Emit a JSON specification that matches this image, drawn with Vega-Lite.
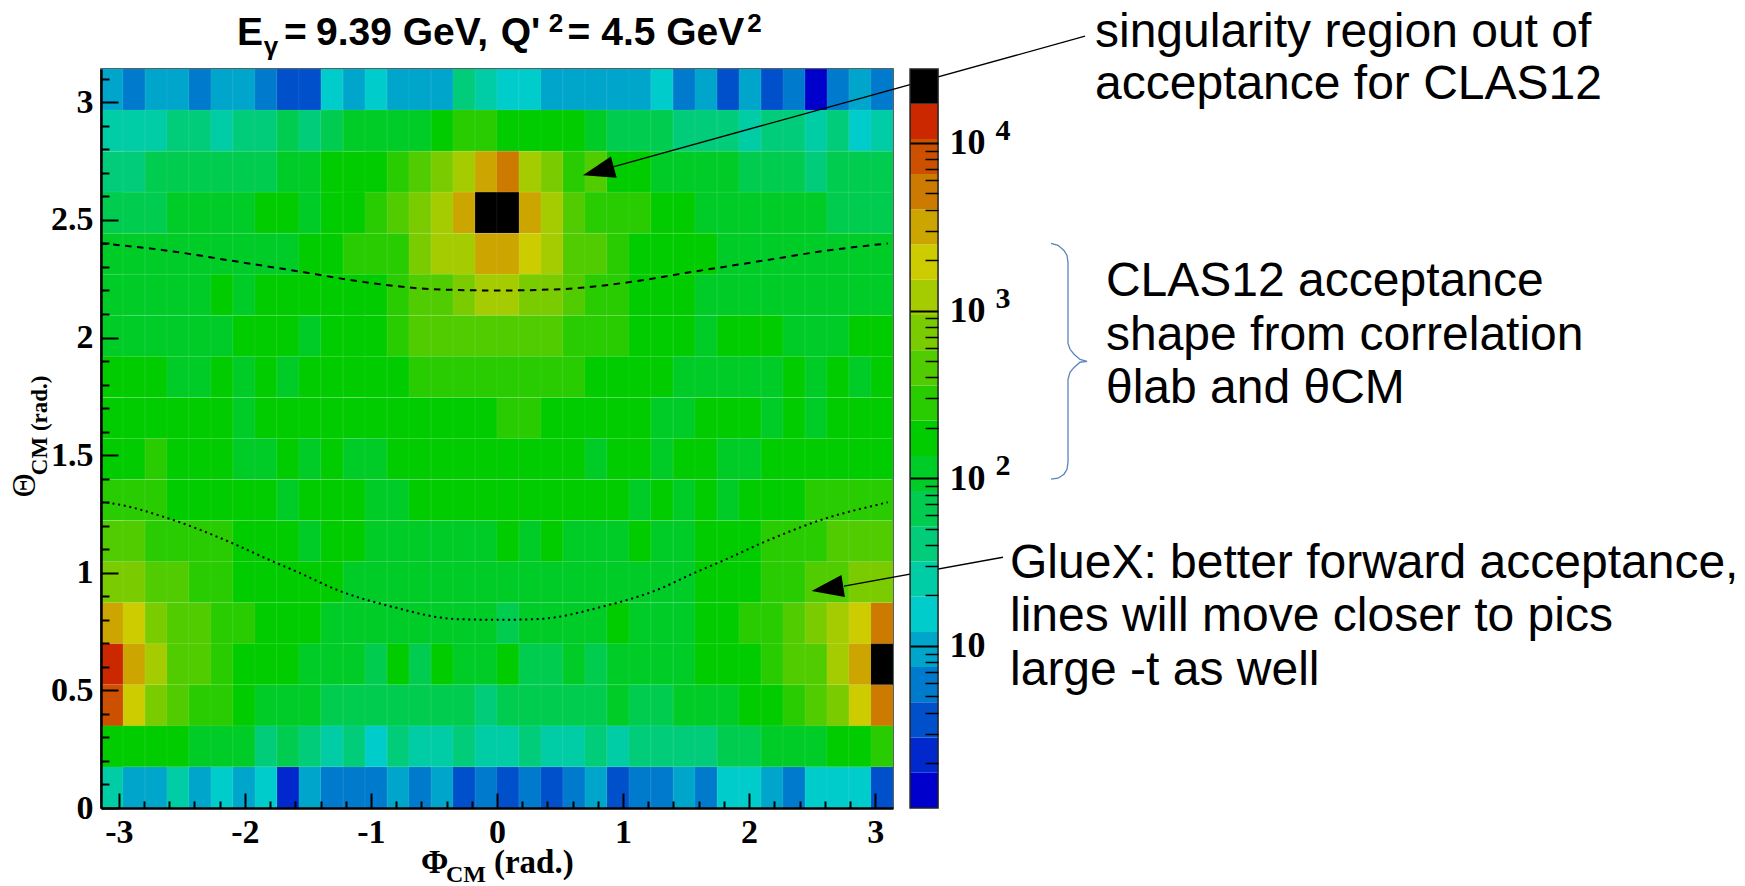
{"$schema":"https://vega.github.io/schema/vega-lite/v6.json","autosize":{"type":"none"},"padding":{"left":101,"top":69,"right":852,"bottom":78},"width":792,"height":739,"background":"white","config":{"view":{"stroke":"#1a2a2a","strokeWidth":1.5},"axis":{"grid":false}},"resolve":{"scale":{"y":"independent"},"axis":{"x":"independent","y":"independent"}},"layer":[{"resolve":{"axis":{"x":"independent","y":"independent"}},"layer":[{"data":{"values":[
{"p":-3.054,"t":3.054,"n":9.5},{"p":-2.88,"t":3.054,"n":5.9},{"p":-2.705,"t":3.054,"n":9.5},{"p":-2.531,"t":3.054,"n":9.5},{"p":-2.356,"t":3.054,"n":5.9},{"p":-2.182,"t":3.054,"n":9.5},{"p":-2.007,"t":3.054,"n":9.5},{"p":-1.833,"t":3.054,"n":5.9},{"p":-1.658,"t":3.054,"n":3.6},{"p":-1.484,"t":3.054,"n":3.6},{"p":-1.309,"t":3.054,"n":15.5},{"p":-1.134,"t":3.054,"n":9.5},{"p":-0.96,"t":3.054,"n":15.5},{"p":-0.785,"t":3.054,"n":9.5},{"p":-0.611,"t":3.054,"n":9.5},{"p":-0.436,"t":3.054,"n":9.5},{"p":-0.262,"t":3.054,"n":41},{"p":-0.087,"t":3.054,"n":25},{"p":0.087,"t":3.054,"n":15.5},{"p":0.262,"t":3.054,"n":15.5},{"p":0.436,"t":3.054,"n":9.5},{"p":0.611,"t":3.054,"n":9.5},{"p":0.785,"t":3.054,"n":9.5},{"p":0.96,"t":3.054,"n":9.5},{"p":1.134,"t":3.054,"n":9.5},{"p":1.309,"t":3.054,"n":15.5},{"p":1.484,"t":3.054,"n":5.9},{"p":1.658,"t":3.054,"n":9.5},{"p":1.833,"t":3.054,"n":3.6},{"p":2.007,"t":3.054,"n":9.5},{"p":2.182,"t":3.054,"n":3.6},{"p":2.356,"t":3.054,"n":5.9},{"p":2.531,"t":3.054,"n":1.4},{"p":2.705,"t":3.054,"n":5.9},{"p":2.88,"t":3.054,"n":9.5},{"p":3.054,"t":3.054,"n":5.9},
{"p":-3.054,"t":2.88,"n":25},{"p":-2.88,"t":2.88,"n":25},{"p":-2.705,"t":2.88,"n":25},{"p":-2.531,"t":2.88,"n":41},{"p":-2.356,"t":2.88,"n":41},{"p":-2.182,"t":2.88,"n":25},{"p":-2.007,"t":2.88,"n":41},{"p":-1.833,"t":2.88,"n":41},{"p":-1.658,"t":2.88,"n":66},{"p":-1.484,"t":2.88,"n":41},{"p":-1.309,"t":2.88,"n":66},{"p":-1.134,"t":2.88,"n":107},{"p":-0.96,"t":2.88,"n":107},{"p":-0.785,"t":2.88,"n":107},{"p":-0.611,"t":2.88,"n":107},{"p":-0.436,"t":2.88,"n":173},{"p":-0.262,"t":2.88,"n":281},{"p":-0.087,"t":2.88,"n":281},{"p":0.087,"t":2.88,"n":173},{"p":0.262,"t":2.88,"n":173},{"p":0.436,"t":2.88,"n":173},{"p":0.611,"t":2.88,"n":173},{"p":0.785,"t":2.88,"n":107},{"p":0.96,"t":2.88,"n":66},{"p":1.134,"t":2.88,"n":66},{"p":1.309,"t":2.88,"n":66},{"p":1.484,"t":2.88,"n":41},{"p":1.658,"t":2.88,"n":41},{"p":1.833,"t":2.88,"n":41},{"p":2.007,"t":2.88,"n":25},{"p":2.182,"t":2.88,"n":41},{"p":2.356,"t":2.88,"n":41},{"p":2.531,"t":2.88,"n":25},{"p":2.705,"t":2.88,"n":41},{"p":2.88,"t":2.88,"n":15.5},{"p":3.054,"t":2.88,"n":25},
{"p":-3.054,"t":2.705,"n":41},{"p":-2.88,"t":2.705,"n":41},{"p":-2.705,"t":2.705,"n":66},{"p":-2.531,"t":2.705,"n":66},{"p":-2.356,"t":2.705,"n":66},{"p":-2.182,"t":2.705,"n":66},{"p":-2.007,"t":2.705,"n":66},{"p":-1.833,"t":2.705,"n":66},{"p":-1.658,"t":2.705,"n":107},{"p":-1.484,"t":2.705,"n":107},{"p":-1.309,"t":2.705,"n":173},{"p":-1.134,"t":2.705,"n":173},{"p":-0.96,"t":2.705,"n":173},{"p":-0.785,"t":2.705,"n":281},{"p":-0.611,"t":2.705,"n":456},{"p":-0.436,"t":2.705,"n":740},{"p":-0.262,"t":2.705,"n":1200},{"p":-0.087,"t":2.705,"n":3155},{"p":0.087,"t":2.705,"n":5117},{"p":0.262,"t":2.705,"n":1200},{"p":0.436,"t":2.705,"n":740},{"p":0.611,"t":2.705,"n":281},{"p":0.785,"t":2.705,"n":456},{"p":0.96,"t":2.705,"n":173},{"p":1.134,"t":2.705,"n":173},{"p":1.309,"t":2.705,"n":107},{"p":1.484,"t":2.705,"n":107},{"p":1.658,"t":2.705,"n":107},{"p":1.833,"t":2.705,"n":107},{"p":2.007,"t":2.705,"n":66},{"p":2.182,"t":2.705,"n":66},{"p":2.356,"t":2.705,"n":66},{"p":2.531,"t":2.705,"n":41},{"p":2.705,"t":2.705,"n":66},{"p":2.88,"t":2.705,"n":66},{"p":3.054,"t":2.705,"n":66},
{"p":-3.054,"t":2.531,"n":66},{"p":-2.88,"t":2.531,"n":66},{"p":-2.705,"t":2.531,"n":66},{"p":-2.531,"t":2.531,"n":107},{"p":-2.356,"t":2.531,"n":107},{"p":-2.182,"t":2.531,"n":107},{"p":-2.007,"t":2.531,"n":107},{"p":-1.833,"t":2.531,"n":173},{"p":-1.658,"t":2.531,"n":173},{"p":-1.484,"t":2.531,"n":107},{"p":-1.309,"t":2.531,"n":173},{"p":-1.134,"t":2.531,"n":173},{"p":-0.96,"t":2.531,"n":281},{"p":-0.785,"t":2.531,"n":456},{"p":-0.611,"t":2.531,"n":740},{"p":-0.436,"t":2.531,"n":1200},{"p":-0.262,"t":2.531,"n":3155},{"p":-0.087,"t":2.531,"n":21830},{"p":0.087,"t":2.531,"n":21830},{"p":0.262,"t":2.531,"n":3155},{"p":0.436,"t":2.531,"n":1200},{"p":0.611,"t":2.531,"n":456},{"p":0.785,"t":2.531,"n":281},{"p":0.96,"t":2.531,"n":281},{"p":1.134,"t":2.531,"n":281},{"p":1.309,"t":2.531,"n":173},{"p":1.484,"t":2.531,"n":173},{"p":1.658,"t":2.531,"n":107},{"p":1.833,"t":2.531,"n":107},{"p":2.007,"t":2.531,"n":107},{"p":2.182,"t":2.531,"n":107},{"p":2.356,"t":2.531,"n":107},{"p":2.531,"t":2.531,"n":107},{"p":2.705,"t":2.531,"n":66},{"p":2.88,"t":2.531,"n":66},{"p":3.054,"t":2.531,"n":66},
{"p":-3.054,"t":2.356,"n":107},{"p":-2.88,"t":2.356,"n":107},{"p":-2.705,"t":2.356,"n":107},{"p":-2.531,"t":2.356,"n":107},{"p":-2.356,"t":2.356,"n":107},{"p":-2.182,"t":2.356,"n":107},{"p":-2.007,"t":2.356,"n":107},{"p":-1.833,"t":2.356,"n":107},{"p":-1.658,"t":2.356,"n":107},{"p":-1.484,"t":2.356,"n":173},{"p":-1.309,"t":2.356,"n":173},{"p":-1.134,"t":2.356,"n":281},{"p":-0.96,"t":2.356,"n":281},{"p":-0.785,"t":2.356,"n":281},{"p":-0.611,"t":2.356,"n":740},{"p":-0.436,"t":2.356,"n":1200},{"p":-0.262,"t":2.356,"n":1200},{"p":-0.087,"t":2.356,"n":3155},{"p":0.087,"t":2.356,"n":3155},{"p":0.262,"t":2.356,"n":1945},{"p":0.436,"t":2.356,"n":1200},{"p":0.611,"t":2.356,"n":456},{"p":0.785,"t":2.356,"n":456},{"p":0.96,"t":2.356,"n":281},{"p":1.134,"t":2.356,"n":173},{"p":1.309,"t":2.356,"n":173},{"p":1.484,"t":2.356,"n":173},{"p":1.658,"t":2.356,"n":173},{"p":1.833,"t":2.356,"n":107},{"p":2.007,"t":2.356,"n":107},{"p":2.182,"t":2.356,"n":107},{"p":2.356,"t":2.356,"n":107},{"p":2.531,"t":2.356,"n":107},{"p":2.705,"t":2.356,"n":107},{"p":2.88,"t":2.356,"n":107},{"p":3.054,"t":2.356,"n":107},
{"p":-3.054,"t":2.182,"n":107},{"p":-2.88,"t":2.182,"n":107},{"p":-2.705,"t":2.182,"n":107},{"p":-2.531,"t":2.182,"n":107},{"p":-2.356,"t":2.182,"n":107},{"p":-2.182,"t":2.182,"n":173},{"p":-2.007,"t":2.182,"n":107},{"p":-1.833,"t":2.182,"n":173},{"p":-1.658,"t":2.182,"n":173},{"p":-1.484,"t":2.182,"n":173},{"p":-1.309,"t":2.182,"n":173},{"p":-1.134,"t":2.182,"n":173},{"p":-0.96,"t":2.182,"n":173},{"p":-0.785,"t":2.182,"n":281},{"p":-0.611,"t":2.182,"n":456},{"p":-0.436,"t":2.182,"n":456},{"p":-0.262,"t":2.182,"n":740},{"p":-0.087,"t":2.182,"n":1200},{"p":0.087,"t":2.182,"n":1200},{"p":0.262,"t":2.182,"n":740},{"p":0.436,"t":2.182,"n":740},{"p":0.611,"t":2.182,"n":456},{"p":0.785,"t":2.182,"n":281},{"p":0.96,"t":2.182,"n":281},{"p":1.134,"t":2.182,"n":173},{"p":1.309,"t":2.182,"n":173},{"p":1.484,"t":2.182,"n":173},{"p":1.658,"t":2.182,"n":107},{"p":1.833,"t":2.182,"n":107},{"p":2.007,"t":2.182,"n":107},{"p":2.182,"t":2.182,"n":107},{"p":2.356,"t":2.182,"n":107},{"p":2.531,"t":2.182,"n":107},{"p":2.705,"t":2.182,"n":107},{"p":2.88,"t":2.182,"n":107},{"p":3.054,"t":2.182,"n":107},
{"p":-3.054,"t":2.007,"n":107},{"p":-2.88,"t":2.007,"n":107},{"p":-2.705,"t":2.007,"n":107},{"p":-2.531,"t":2.007,"n":107},{"p":-2.356,"t":2.007,"n":107},{"p":-2.182,"t":2.007,"n":107},{"p":-2.007,"t":2.007,"n":173},{"p":-1.833,"t":2.007,"n":173},{"p":-1.658,"t":2.007,"n":173},{"p":-1.484,"t":2.007,"n":107},{"p":-1.309,"t":2.007,"n":173},{"p":-1.134,"t":2.007,"n":173},{"p":-0.96,"t":2.007,"n":173},{"p":-0.785,"t":2.007,"n":281},{"p":-0.611,"t":2.007,"n":456},{"p":-0.436,"t":2.007,"n":456},{"p":-0.262,"t":2.007,"n":456},{"p":-0.087,"t":2.007,"n":456},{"p":0.087,"t":2.007,"n":456},{"p":0.262,"t":2.007,"n":456},{"p":0.436,"t":2.007,"n":456},{"p":0.611,"t":2.007,"n":281},{"p":0.785,"t":2.007,"n":281},{"p":0.96,"t":2.007,"n":281},{"p":1.134,"t":2.007,"n":173},{"p":1.309,"t":2.007,"n":173},{"p":1.484,"t":2.007,"n":173},{"p":1.658,"t":2.007,"n":107},{"p":1.833,"t":2.007,"n":173},{"p":2.007,"t":2.007,"n":173},{"p":2.182,"t":2.007,"n":173},{"p":2.356,"t":2.007,"n":107},{"p":2.531,"t":2.007,"n":107},{"p":2.705,"t":2.007,"n":107},{"p":2.88,"t":2.007,"n":173},{"p":3.054,"t":2.007,"n":173},
{"p":-3.054,"t":1.833,"n":173},{"p":-2.88,"t":1.833,"n":173},{"p":-2.705,"t":1.833,"n":173},{"p":-2.531,"t":1.833,"n":107},{"p":-2.356,"t":1.833,"n":107},{"p":-2.182,"t":1.833,"n":173},{"p":-2.007,"t":1.833,"n":107},{"p":-1.833,"t":1.833,"n":173},{"p":-1.658,"t":1.833,"n":107},{"p":-1.484,"t":1.833,"n":173},{"p":-1.309,"t":1.833,"n":173},{"p":-1.134,"t":1.833,"n":173},{"p":-0.96,"t":1.833,"n":173},{"p":-0.785,"t":1.833,"n":173},{"p":-0.611,"t":1.833,"n":281},{"p":-0.436,"t":1.833,"n":281},{"p":-0.262,"t":1.833,"n":281},{"p":-0.087,"t":1.833,"n":281},{"p":0.087,"t":1.833,"n":281},{"p":0.262,"t":1.833,"n":281},{"p":0.436,"t":1.833,"n":281},{"p":0.611,"t":1.833,"n":281},{"p":0.785,"t":1.833,"n":173},{"p":0.96,"t":1.833,"n":173},{"p":1.134,"t":1.833,"n":173},{"p":1.309,"t":1.833,"n":173},{"p":1.484,"t":1.833,"n":107},{"p":1.658,"t":1.833,"n":107},{"p":1.833,"t":1.833,"n":107},{"p":2.007,"t":1.833,"n":107},{"p":2.182,"t":1.833,"n":107},{"p":2.356,"t":1.833,"n":173},{"p":2.531,"t":1.833,"n":107},{"p":2.705,"t":1.833,"n":173},{"p":2.88,"t":1.833,"n":107},{"p":3.054,"t":1.833,"n":173},
{"p":-3.054,"t":1.658,"n":173},{"p":-2.88,"t":1.658,"n":173},{"p":-2.705,"t":1.658,"n":173},{"p":-2.531,"t":1.658,"n":173},{"p":-2.356,"t":1.658,"n":173},{"p":-2.182,"t":1.658,"n":173},{"p":-2.007,"t":1.658,"n":107},{"p":-1.833,"t":1.658,"n":173},{"p":-1.658,"t":1.658,"n":173},{"p":-1.484,"t":1.658,"n":173},{"p":-1.309,"t":1.658,"n":173},{"p":-1.134,"t":1.658,"n":173},{"p":-0.96,"t":1.658,"n":173},{"p":-0.785,"t":1.658,"n":173},{"p":-0.611,"t":1.658,"n":173},{"p":-0.436,"t":1.658,"n":173},{"p":-0.262,"t":1.658,"n":173},{"p":-0.087,"t":1.658,"n":173},{"p":0.087,"t":1.658,"n":281},{"p":0.262,"t":1.658,"n":281},{"p":0.436,"t":1.658,"n":173},{"p":0.611,"t":1.658,"n":173},{"p":0.785,"t":1.658,"n":173},{"p":0.96,"t":1.658,"n":173},{"p":1.134,"t":1.658,"n":173},{"p":1.309,"t":1.658,"n":107},{"p":1.484,"t":1.658,"n":107},{"p":1.658,"t":1.658,"n":173},{"p":1.833,"t":1.658,"n":173},{"p":2.007,"t":1.658,"n":173},{"p":2.182,"t":1.658,"n":107},{"p":2.356,"t":1.658,"n":173},{"p":2.531,"t":1.658,"n":107},{"p":2.705,"t":1.658,"n":173},{"p":2.88,"t":1.658,"n":173},{"p":3.054,"t":1.658,"n":173},
{"p":-3.054,"t":1.484,"n":173},{"p":-2.88,"t":1.484,"n":173},{"p":-2.705,"t":1.484,"n":281},{"p":-2.531,"t":1.484,"n":173},{"p":-2.356,"t":1.484,"n":173},{"p":-2.182,"t":1.484,"n":173},{"p":-2.007,"t":1.484,"n":107},{"p":-1.833,"t":1.484,"n":107},{"p":-1.658,"t":1.484,"n":173},{"p":-1.484,"t":1.484,"n":107},{"p":-1.309,"t":1.484,"n":173},{"p":-1.134,"t":1.484,"n":107},{"p":-0.96,"t":1.484,"n":107},{"p":-0.785,"t":1.484,"n":173},{"p":-0.611,"t":1.484,"n":173},{"p":-0.436,"t":1.484,"n":173},{"p":-0.262,"t":1.484,"n":173},{"p":-0.087,"t":1.484,"n":173},{"p":0.087,"t":1.484,"n":173},{"p":0.262,"t":1.484,"n":173},{"p":0.436,"t":1.484,"n":173},{"p":0.611,"t":1.484,"n":173},{"p":0.785,"t":1.484,"n":107},{"p":0.96,"t":1.484,"n":173},{"p":1.134,"t":1.484,"n":173},{"p":1.309,"t":1.484,"n":107},{"p":1.484,"t":1.484,"n":173},{"p":1.658,"t":1.484,"n":173},{"p":1.833,"t":1.484,"n":107},{"p":2.007,"t":1.484,"n":107},{"p":2.182,"t":1.484,"n":173},{"p":2.356,"t":1.484,"n":173},{"p":2.531,"t":1.484,"n":173},{"p":2.705,"t":1.484,"n":173},{"p":2.88,"t":1.484,"n":173},{"p":3.054,"t":1.484,"n":173},
{"p":-3.054,"t":1.309,"n":281},{"p":-2.88,"t":1.309,"n":281},{"p":-2.705,"t":1.309,"n":281},{"p":-2.531,"t":1.309,"n":173},{"p":-2.356,"t":1.309,"n":173},{"p":-2.182,"t":1.309,"n":173},{"p":-2.007,"t":1.309,"n":173},{"p":-1.833,"t":1.309,"n":173},{"p":-1.658,"t":1.309,"n":107},{"p":-1.484,"t":1.309,"n":173},{"p":-1.309,"t":1.309,"n":173},{"p":-1.134,"t":1.309,"n":173},{"p":-0.96,"t":1.309,"n":107},{"p":-0.785,"t":1.309,"n":107},{"p":-0.611,"t":1.309,"n":173},{"p":-0.436,"t":1.309,"n":173},{"p":-0.262,"t":1.309,"n":173},{"p":-0.087,"t":1.309,"n":173},{"p":0.087,"t":1.309,"n":173},{"p":0.262,"t":1.309,"n":173},{"p":0.436,"t":1.309,"n":173},{"p":0.611,"t":1.309,"n":173},{"p":0.785,"t":1.309,"n":173},{"p":0.96,"t":1.309,"n":173},{"p":1.134,"t":1.309,"n":107},{"p":1.309,"t":1.309,"n":173},{"p":1.484,"t":1.309,"n":107},{"p":1.658,"t":1.309,"n":173},{"p":1.833,"t":1.309,"n":107},{"p":2.007,"t":1.309,"n":173},{"p":2.182,"t":1.309,"n":173},{"p":2.356,"t":1.309,"n":173},{"p":2.531,"t":1.309,"n":281},{"p":2.705,"t":1.309,"n":281},{"p":2.88,"t":1.309,"n":281},{"p":3.054,"t":1.309,"n":281},
{"p":-3.054,"t":1.134,"n":456},{"p":-2.88,"t":1.134,"n":456},{"p":-2.705,"t":1.134,"n":281},{"p":-2.531,"t":1.134,"n":281},{"p":-2.356,"t":1.134,"n":281},{"p":-2.182,"t":1.134,"n":281},{"p":-2.007,"t":1.134,"n":173},{"p":-1.833,"t":1.134,"n":173},{"p":-1.658,"t":1.134,"n":173},{"p":-1.484,"t":1.134,"n":107},{"p":-1.309,"t":1.134,"n":173},{"p":-1.134,"t":1.134,"n":173},{"p":-0.96,"t":1.134,"n":107},{"p":-0.785,"t":1.134,"n":107},{"p":-0.611,"t":1.134,"n":107},{"p":-0.436,"t":1.134,"n":107},{"p":-0.262,"t":1.134,"n":107},{"p":-0.087,"t":1.134,"n":107},{"p":0.087,"t":1.134,"n":173},{"p":0.262,"t":1.134,"n":107},{"p":0.436,"t":1.134,"n":173},{"p":0.611,"t":1.134,"n":107},{"p":0.785,"t":1.134,"n":107},{"p":0.96,"t":1.134,"n":107},{"p":1.134,"t":1.134,"n":173},{"p":1.309,"t":1.134,"n":107},{"p":1.484,"t":1.134,"n":107},{"p":1.658,"t":1.134,"n":173},{"p":1.833,"t":1.134,"n":173},{"p":2.007,"t":1.134,"n":173},{"p":2.182,"t":1.134,"n":281},{"p":2.356,"t":1.134,"n":281},{"p":2.531,"t":1.134,"n":281},{"p":2.705,"t":1.134,"n":456},{"p":2.88,"t":1.134,"n":456},{"p":3.054,"t":1.134,"n":456},
{"p":-3.054,"t":0.96,"n":740},{"p":-2.88,"t":0.96,"n":740},{"p":-2.705,"t":0.96,"n":456},{"p":-2.531,"t":0.96,"n":456},{"p":-2.356,"t":0.96,"n":281},{"p":-2.182,"t":0.96,"n":281},{"p":-2.007,"t":0.96,"n":173},{"p":-1.833,"t":0.96,"n":173},{"p":-1.658,"t":0.96,"n":173},{"p":-1.484,"t":0.96,"n":173},{"p":-1.309,"t":0.96,"n":173},{"p":-1.134,"t":0.96,"n":107},{"p":-0.96,"t":0.96,"n":107},{"p":-0.785,"t":0.96,"n":107},{"p":-0.611,"t":0.96,"n":107},{"p":-0.436,"t":0.96,"n":107},{"p":-0.262,"t":0.96,"n":107},{"p":-0.087,"t":0.96,"n":107},{"p":0.087,"t":0.96,"n":107},{"p":0.262,"t":0.96,"n":107},{"p":0.436,"t":0.96,"n":107},{"p":0.611,"t":0.96,"n":107},{"p":0.785,"t":0.96,"n":107},{"p":0.96,"t":0.96,"n":107},{"p":1.134,"t":0.96,"n":107},{"p":1.309,"t":0.96,"n":107},{"p":1.484,"t":0.96,"n":107},{"p":1.658,"t":0.96,"n":173},{"p":1.833,"t":0.96,"n":173},{"p":2.007,"t":0.96,"n":173},{"p":2.182,"t":0.96,"n":281},{"p":2.356,"t":0.96,"n":281},{"p":2.531,"t":0.96,"n":456},{"p":2.705,"t":0.96,"n":456},{"p":2.88,"t":0.96,"n":740},{"p":3.054,"t":0.96,"n":740},
{"p":-3.054,"t":0.785,"n":3155},{"p":-2.88,"t":0.785,"n":1945},{"p":-2.705,"t":0.785,"n":740},{"p":-2.531,"t":0.785,"n":456},{"p":-2.356,"t":0.785,"n":456},{"p":-2.182,"t":0.785,"n":281},{"p":-2.007,"t":0.785,"n":281},{"p":-1.833,"t":0.785,"n":173},{"p":-1.658,"t":0.785,"n":173},{"p":-1.484,"t":0.785,"n":173},{"p":-1.309,"t":0.785,"n":107},{"p":-1.134,"t":0.785,"n":107},{"p":-0.96,"t":0.785,"n":107},{"p":-0.785,"t":0.785,"n":107},{"p":-0.611,"t":0.785,"n":107},{"p":-0.436,"t":0.785,"n":107},{"p":-0.262,"t":0.785,"n":107},{"p":-0.087,"t":0.785,"n":107},{"p":0.087,"t":0.785,"n":66},{"p":0.262,"t":0.785,"n":107},{"p":0.436,"t":0.785,"n":107},{"p":0.611,"t":0.785,"n":107},{"p":0.785,"t":0.785,"n":107},{"p":0.96,"t":0.785,"n":173},{"p":1.134,"t":0.785,"n":107},{"p":1.309,"t":0.785,"n":107},{"p":1.484,"t":0.785,"n":107},{"p":1.658,"t":0.785,"n":173},{"p":1.833,"t":0.785,"n":173},{"p":2.007,"t":0.785,"n":281},{"p":2.182,"t":0.785,"n":281},{"p":2.356,"t":0.785,"n":456},{"p":2.531,"t":0.785,"n":740},{"p":2.705,"t":0.785,"n":1200},{"p":2.88,"t":0.785,"n":1945},{"p":3.054,"t":0.785,"n":5117},
{"p":-3.054,"t":0.611,"n":13459},{"p":-2.88,"t":0.611,"n":3155},{"p":-2.705,"t":0.611,"n":1200},{"p":-2.531,"t":0.611,"n":456},{"p":-2.356,"t":0.611,"n":456},{"p":-2.182,"t":0.611,"n":281},{"p":-2.007,"t":0.611,"n":173},{"p":-1.833,"t":0.611,"n":173},{"p":-1.658,"t":0.611,"n":173},{"p":-1.484,"t":0.611,"n":107},{"p":-1.309,"t":0.611,"n":107},{"p":-1.134,"t":0.611,"n":107},{"p":-0.96,"t":0.611,"n":66},{"p":-0.785,"t":0.611,"n":173},{"p":-0.611,"t":0.611,"n":66},{"p":-0.436,"t":0.611,"n":173},{"p":-0.262,"t":0.611,"n":107},{"p":-0.087,"t":0.611,"n":107},{"p":0.087,"t":0.611,"n":173},{"p":0.262,"t":0.611,"n":66},{"p":0.436,"t":0.611,"n":66},{"p":0.611,"t":0.611,"n":107},{"p":0.785,"t":0.611,"n":66},{"p":0.96,"t":0.611,"n":107},{"p":1.134,"t":0.611,"n":107},{"p":1.309,"t":0.611,"n":107},{"p":1.484,"t":0.611,"n":107},{"p":1.658,"t":0.611,"n":173},{"p":1.833,"t":0.611,"n":173},{"p":2.007,"t":0.611,"n":173},{"p":2.182,"t":0.611,"n":281},{"p":2.356,"t":0.611,"n":456},{"p":2.531,"t":0.611,"n":456},{"p":2.705,"t":0.611,"n":1200},{"p":2.88,"t":0.611,"n":3155},{"p":3.054,"t":0.611,"n":21830},
{"p":-3.054,"t":0.436,"n":8299},{"p":-2.88,"t":0.436,"n":1945},{"p":-2.705,"t":0.436,"n":740},{"p":-2.531,"t":0.436,"n":456},{"p":-2.356,"t":0.436,"n":281},{"p":-2.182,"t":0.436,"n":281},{"p":-2.007,"t":0.436,"n":173},{"p":-1.833,"t":0.436,"n":107},{"p":-1.658,"t":0.436,"n":107},{"p":-1.484,"t":0.436,"n":107},{"p":-1.309,"t":0.436,"n":66},{"p":-1.134,"t":0.436,"n":66},{"p":-0.96,"t":0.436,"n":66},{"p":-0.785,"t":0.436,"n":66},{"p":-0.611,"t":0.436,"n":66},{"p":-0.436,"t":0.436,"n":66},{"p":-0.262,"t":0.436,"n":66},{"p":-0.087,"t":0.436,"n":41},{"p":0.087,"t":0.436,"n":66},{"p":0.262,"t":0.436,"n":66},{"p":0.436,"t":0.436,"n":66},{"p":0.611,"t":0.436,"n":66},{"p":0.785,"t":0.436,"n":66},{"p":0.96,"t":0.436,"n":107},{"p":1.134,"t":0.436,"n":66},{"p":1.309,"t":0.436,"n":66},{"p":1.484,"t":0.436,"n":107},{"p":1.658,"t":0.436,"n":107},{"p":1.833,"t":0.436,"n":107},{"p":2.007,"t":0.436,"n":173},{"p":2.182,"t":0.436,"n":173},{"p":2.356,"t":0.436,"n":281},{"p":2.531,"t":0.436,"n":456},{"p":2.705,"t":0.436,"n":740},{"p":2.88,"t":0.436,"n":1945},{"p":3.054,"t":0.436,"n":5117},
{"p":-3.054,"t":0.262,"n":173},{"p":-2.88,"t":0.262,"n":173},{"p":-2.705,"t":0.262,"n":173},{"p":-2.531,"t":0.262,"n":173},{"p":-2.356,"t":0.262,"n":107},{"p":-2.182,"t":0.262,"n":107},{"p":-2.007,"t":0.262,"n":107},{"p":-1.833,"t":0.262,"n":41},{"p":-1.658,"t":0.262,"n":66},{"p":-1.484,"t":0.262,"n":41},{"p":-1.309,"t":0.262,"n":25},{"p":-1.134,"t":0.262,"n":41},{"p":-0.96,"t":0.262,"n":15.5},{"p":-0.785,"t":0.262,"n":41},{"p":-0.611,"t":0.262,"n":25},{"p":-0.436,"t":0.262,"n":25},{"p":-0.262,"t":0.262,"n":41},{"p":-0.087,"t":0.262,"n":25},{"p":0.087,"t":0.262,"n":25},{"p":0.262,"t":0.262,"n":41},{"p":0.436,"t":0.262,"n":25},{"p":0.611,"t":0.262,"n":25},{"p":0.785,"t":0.262,"n":41},{"p":0.96,"t":0.262,"n":25},{"p":1.134,"t":0.262,"n":41},{"p":1.309,"t":0.262,"n":41},{"p":1.484,"t":0.262,"n":41},{"p":1.658,"t":0.262,"n":41},{"p":1.833,"t":0.262,"n":66},{"p":2.007,"t":0.262,"n":66},{"p":2.182,"t":0.262,"n":107},{"p":2.356,"t":0.262,"n":107},{"p":2.531,"t":0.262,"n":107},{"p":2.705,"t":0.262,"n":173},{"p":2.88,"t":0.262,"n":173},{"p":3.054,"t":0.262,"n":281},
{"p":-3.054,"t":0.087,"n":25},{"p":-2.88,"t":0.087,"n":9.5},{"p":-2.705,"t":0.087,"n":9.5},{"p":-2.531,"t":0.087,"n":25},{"p":-2.356,"t":0.087,"n":9.5},{"p":-2.182,"t":0.087,"n":15.5},{"p":-2.007,"t":0.087,"n":9.5},{"p":-1.833,"t":0.087,"n":15.5},{"p":-1.658,"t":0.087,"n":2.2},{"p":-1.484,"t":0.087,"n":9.5},{"p":-1.309,"t":0.087,"n":5.9},{"p":-1.134,"t":0.087,"n":5.9},{"p":-0.96,"t":0.087,"n":5.9},{"p":-0.785,"t":0.087,"n":9.5},{"p":-0.611,"t":0.087,"n":5.9},{"p":-0.436,"t":0.087,"n":9.5},{"p":-0.262,"t":0.087,"n":3.6},{"p":-0.087,"t":0.087,"n":5.9},{"p":0.087,"t":0.087,"n":3.6},{"p":0.262,"t":0.087,"n":5.9},{"p":0.436,"t":0.087,"n":3.6},{"p":0.611,"t":0.087,"n":5.9},{"p":0.785,"t":0.087,"n":9.5},{"p":0.96,"t":0.087,"n":3.6},{"p":1.134,"t":0.087,"n":5.9},{"p":1.309,"t":0.087,"n":5.9},{"p":1.484,"t":0.087,"n":9.5},{"p":1.658,"t":0.087,"n":5.9},{"p":1.833,"t":0.087,"n":15.5},{"p":2.007,"t":0.087,"n":15.5},{"p":2.182,"t":0.087,"n":9.5},{"p":2.356,"t":0.087,"n":5.9},{"p":2.531,"t":0.087,"n":15.5},{"p":2.705,"t":0.087,"n":15.5},{"p":2.88,"t":0.087,"n":15.5},{"p":3.054,"t":0.087,"n":3.6}
]},"mark":{"type":"rect","width":22,"height":41.05,"stroke":"#ffffff","strokeOpacity":0.1,"strokeWidth":0.6},"encoding":{"x":{"field":"p","type":"quantitative","title":null,"scale":{"domain":[-3.14159,3.14159],"nice":false,"zero":false},"axis":{"orient":"bottom","zindex":1,"values":[-3,-2,-1,0,1,2,3],"tickSize":-15,"tickWidth":2,"tickColor":"black","domainColor":"black","domainWidth":2.5,"labelFont":"Liberation Serif","labelFontWeight":"bold","labelFontSize":34,"labelColor":"black","labelPadding":22,"labelExpr":"''+datum.value","labelOverlap":false,"labelFlush":false,"labelBound":false}},"y":{"field":"t","type":"quantitative","title":null,"scale":{"domain":[0,3.14159],"nice":false,"zero":false},"axis":{"orient":"left","zindex":1,"values":[0,0.5,1,1.5,2,2.5,3],"tickSize":-17,"tickWidth":2,"tickColor":"black","domainColor":"black","domainWidth":2.5,"labelFont":"Liberation Serif","labelFontWeight":"bold","labelFontSize":34,"labelColor":"black","labelPadding":25,"labelExpr":"''+datum.value","labelOverlap":false,"labelFlush":false,"labelBound":false}},"color":{"field":"n","type":"quantitative","legend":null,"scale":{"type":"threshold","domain":[1.75,2.84,4.61,7.48,12.1,19.7,31.9,51.8,83.9,136,221,358,581,942,1528,2477,4018,6516,10568,17140],"range":["#0000cc","#0028cc","#0050cc","#007acc","#00a5cc","#00cccc","#00cca5","#00cc7a","#00cc50","#00cc28","#00cc00","#28cc00","#50cc00","#7acc00","#a5cc00","#cccc00","#cca500","#cc7a00","#cc5000","#cc2800","#000000"]}}}},
{"data":{"values":[{"p":-3.14,"t":2.4},{"p":-2.61,"t":2.369},{"p":-2.09,"t":2.325},{"p":-1.57,"t":2.281},{"p":-1.03,"t":2.234},{"p":-0.52,"t":2.206},{"p":0,"t":2.2},{"p":0.52,"t":2.206},{"p":1.03,"t":2.234},{"p":1.57,"t":2.281},{"p":2.09,"t":2.325},{"p":2.61,"t":2.369},{"p":3.1,"t":2.4}]},"mark":{"type":"line","color":"black","strokeWidth":2,"strokeDash":[6.5,5.5],"interpolate":"monotone"},"encoding":{"x":{"field":"p","type":"quantitative","title":null,"axis":{"orient":"bottom","zindex":1,"values":[-2.8,-2.6,-2.4,-2.2,-1.8,-1.6,-1.4,-1.2,-0.8,-0.6,-0.4,-0.2,0.2,0.4,0.6,0.8,1.2,1.4,1.6,1.8,2.2,2.4,2.6,2.8],"tickSize":-7,"tickWidth":2,"tickColor":"black","labels":false,"domain":false}},"y":{"field":"t","type":"quantitative","title":null,"axis":{"orient":"left","zindex":1,"values":[0.1,0.2,0.3,0.4,0.6,0.7,0.8,0.9,1.1,1.2,1.3,1.4,1.6,1.7,1.8,1.9,2.1,2.2,2.3,2.4,2.6,2.7,2.8,2.9,3.1],"tickSize":-8,"tickWidth":2,"tickColor":"black","labels":false,"domain":false}}}},
{"data":{"values":[{"p":-3.14,"t":1.3},{"p":-3.07,"t":1.296},{"p":-2.59,"t":1.228},{"p":-2.1,"t":1.126},{"p":-1.8,"t":1.053},{"p":-1.59,"t":1.005},{"p":-1.245,"t":0.922},{"p":-0.85,"t":0.858},{"p":-0.32,"t":0.803},{"p":0,"t":0.8},{"p":0.32,"t":0.803},{"p":0.85,"t":0.858},{"p":1.245,"t":0.922},{"p":1.59,"t":1.005},{"p":1.8,"t":1.053},{"p":2.1,"t":1.126},{"p":2.59,"t":1.228},{"p":3.07,"t":1.296},{"p":3.1,"t":1.3}]},"mark":{"type":"line","color":"black","strokeWidth":2,"strokeDash":[2,3.7],"interpolate":"monotone"},"encoding":{"x":{"field":"p","type":"quantitative","axis":null},"y":{"field":"t","type":"quantitative","axis":null}}},
{"data":{"values":[{"g":"a","p":4.665,"t":3.281},{"g":"a","p":0.928,"t":2.727},{"g":"b","p":4.014,"t":1.066},{"g":"b","p":2.753,"t":0.943}]},"mark":{"type":"line","color":"black","strokeWidth":1.3},"encoding":{"x":{"field":"p","type":"quantitative","axis":null},"y":{"field":"t","type":"quantitative","axis":null},"detail":{"field":"g"}}},
{"data":{"values":[{"p":0.804,"t":2.707}]},"mark":{"type":"point","filled":true,"opacity":1,"color":"black","shape":"M -1 0 L 1 -0.69 L 1 0.69 Z","size":1024,"angle":-15},"encoding":{"x":{"field":"p","type":"quantitative","axis":null},"y":{"field":"t","type":"quantitative","axis":null}}},
{"data":{"values":[{"p":2.621,"t":0.933}]},"mark":{"type":"point","filled":true,"opacity":1,"color":"black","shape":"M -1 0 L 1 -0.69 L 1 0.69 Z","size":1024,"angle":-9},"encoding":{"x":{"field":"p","type":"quantitative","axis":null},"y":{"field":"t","type":"quantitative","axis":null}}},
{"data":{"values":[{"o":1,"p":4.395,"t":2.4},{"o":2,"p":4.451,"t":2.392},{"o":3,"p":4.498,"t":2.37},{"o":4,"p":4.522,"t":2.349},{"o":5,"p":4.53,"t":2.319},{"o":6,"p":4.53,"t":1.975},{"o":7,"p":4.546,"t":1.95},{"o":8,"p":4.578,"t":1.929},{"o":9,"p":4.625,"t":1.907},{"o":10,"p":4.681,"t":1.899},{"o":11,"p":4.625,"t":1.895},{"o":12,"p":4.578,"t":1.873},{"o":13,"p":4.546,"t":1.852},{"o":14,"p":4.53,"t":1.822},{"o":15,"p":4.53,"t":1.47},{"o":16,"p":4.522,"t":1.44},{"o":17,"p":4.498,"t":1.419},{"o":18,"p":4.451,"t":1.402},{"o":19,"p":4.395,"t":1.398}]},"mark":{"type":"line","color":"#5b84bd","strokeWidth":1.3},"encoding":{"x":{"field":"p","type":"quantitative","axis":null},"y":{"field":"t","type":"quantitative","axis":null},"order":{"field":"o"}}},
{"data":{"values":[{"p":4.744,"t":3.234,"s":"singularity region out of"},{"p":4.744,"t":3.013,"s":"acceptance for CLAS12"},{"p":4.831,"t":2.177,"s":"CLAS12 acceptance"},{"p":4.831,"t":1.947,"s":"shape from correlation"},{"p":4.831,"t":1.722,"s":"θlab and θCM"},{"p":4.07,"t":0.979,"s":"GlueX: better forward acceptance,"},{"p":4.07,"t":0.753,"s":"lines will move closer to pics"},{"p":4.07,"t":0.524,"s":"large -t as well"}]},"mark":{"type":"text","font":"Liberation Sans","fontSize":48,"align":"left","baseline":"alphabetic","color":"black"},"encoding":{"x":{"field":"p","type":"quantitative","axis":null},"y":{"field":"t","type":"quantitative","axis":null},"text":{"field":"s"}}},
{"data":{"values":[{"p":-2.063,"t":3.243,"s":"E"},{"p":-1.69,"t":3.243,"s":"="},{"p":-1.436,"t":3.243,"s":"9.39 GeV,"},{"p":0.03,"t":3.243,"s":"Q'"},{"p":0.56,"t":3.243,"s":"= 4.5 GeV"}]},"mark":{"type":"text","font":"Liberation Sans","fontWeight":"bold","fontSize":39,"align":"left","baseline":"alphabetic","color":"black"},"encoding":{"x":{"field":"p","type":"quantitative","axis":null},"y":{"field":"t","type":"quantitative","axis":null},"text":{"field":"s"}}},
{"data":{"values":[{"p":-1.85,"t":3.2,"s":"γ"},{"p":0.41,"t":3.3,"s":"2"},{"p":1.985,"t":3.3,"s":"2"}]},"mark":{"type":"text","font":"Liberation Sans","fontWeight":"bold","fontSize":26,"align":"left","baseline":"alphabetic","color":"black"},"encoding":{"x":{"field":"p","type":"quantitative","axis":null},"y":{"field":"t","type":"quantitative","axis":null},"text":{"field":"s"}}},
{"data":{"values":[{"p":-0.603,"t":-0.276,"s":"Φ"},{"p":-0.024,"t":-0.276,"s":"(rad.)"}]},"mark":{"type":"text","font":"Liberation Serif","fontWeight":"bold","fontSize":33,"align":"left","baseline":"alphabetic","color":"black"},"encoding":{"x":{"field":"p","type":"quantitative","axis":null},"y":{"field":"t","type":"quantitative","axis":null},"text":{"field":"s"}}},
{"data":{"values":[{"p":-0.405,"t":-0.314,"s":"CM"}]},"mark":{"type":"text","font":"Liberation Serif","fontWeight":"bold","fontSize":24,"align":"left","baseline":"alphabetic","color":"black"},"encoding":{"x":{"field":"p","type":"quantitative","axis":null},"y":{"field":"t","type":"quantitative","axis":null},"text":{"field":"s"}}},
{"data":{"values":[{"p":-3.665,"t":1.321,"s":"Θ"}]},"mark":{"type":"text","font":"Liberation Serif","fontSize":33,"angle":270,"align":"left","baseline":"alphabetic","color":"black"},"encoding":{"x":{"field":"p","type":"quantitative","axis":null},"y":{"field":"t","type":"quantitative","axis":null},"text":{"field":"s"}}},
{"data":{"values":[{"p":-3.57,"t":1.415,"s":"CM (rad.)"}]},"mark":{"type":"text","font":"Liberation Serif","fontWeight":"bold","fontSize":23,"angle":270,"align":"left","baseline":"alphabetic","color":"black"},"encoding":{"x":{"field":"p","type":"quantitative","axis":null},"y":{"field":"t","type":"quantitative","axis":null},"text":{"field":"s"}}}
]},
{"resolve":{"axis":{"y":"independent"}},"layer":[
{"data":{"values":[{"lo":1.08,"hi":1.75,"n":1.4},{"lo":1.75,"hi":2.84,"n":2.2},{"lo":2.84,"hi":4.61,"n":3.6},{"lo":4.61,"hi":7.48,"n":5.9},{"lo":7.48,"hi":12.1,"n":9.5},{"lo":12.1,"hi":19.7,"n":15.5},{"lo":19.7,"hi":31.9,"n":25},{"lo":31.9,"hi":51.8,"n":41},{"lo":51.8,"hi":83.9,"n":66},{"lo":83.9,"hi":136,"n":107},{"lo":136,"hi":221,"n":173},{"lo":221,"hi":358,"n":281},{"lo":358,"hi":581,"n":456},{"lo":581,"hi":942,"n":740},{"lo":942,"hi":1528,"n":1200},{"lo":1528,"hi":2477,"n":1945},{"lo":2477,"hi":4018,"n":3155},{"lo":4018,"hi":6516,"n":5117},{"lo":6516,"hi":10568,"n":8299},{"lo":10568,"hi":17140,"n":13459},{"lo":17140,"hi":27600,"n":21830}]},"mark":{"type":"rect"},"encoding":{"x":{"datum":3.277,"type":"quantitative","axis":null},"x2":{"datum":3.499},"y":{"field":"lo","type":"quantitative","title":null,"scale":{"type":"log","domain":[1.08,27600],"nice":false},"axis":{"orient":"right","offset":45,"zindex":1,"values":[10,100,1000,10000],"tickSize":-28,"tickWidth":2,"tickColor":"black","domain":false,"labelFont":"Liberation Serif","labelFontWeight":"bold","labelFontSize":36,"labelColor":"black","labelPadding":39,"labelAlign":"left","labelExpr":"'10'","labelOverlap":false,"labelFlush":false,"labelBound":false}},"y2":{"field":"hi"},"color":{"field":"n","type":"quantitative","legend":null,"scale":{"type":"threshold","domain":[1.75,2.84,4.61,7.48,12.1,19.7,31.9,51.8,83.9,136,221,358,581,942,1528,2477,4018,6516,10568,17140],"range":["#0000cc","#0028cc","#0050cc","#007acc","#00a5cc","#00cccc","#00cca5","#00cc7a","#00cc50","#00cc28","#00cc00","#28cc00","#50cc00","#7acc00","#a5cc00","#cccc00","#cca500","#cc7a00","#cc5000","#cc2800","#000000"]}}}},
{"data":{"values":[{"lo":1.08,"hi":27600}]},"mark":{"type":"rect","filled":false,"stroke":"#222222","strokeWidth":1.5},"encoding":{"x":{"datum":3.277,"type":"quantitative","axis":null},"x2":{"datum":3.499},"y":{"field":"lo","type":"quantitative","title":null,"axis":{"orient":"right","offset":45,"zindex":1,"values":[2,3,4,5,6,7,8,9,20,30,40,50,60,70,80,90,200,300,400,500,600,700,800,900,2000,3000,4000,5000,6000,7000,8000,9000],"tickSize":-13,"tickWidth":1.5,"tickColor":"black","domain":false,"labels":false}},"y2":{"field":"hi"}}},
{"data":{"values":[{"v":10000,"s":"4"},{"v":1000,"s":"3"},{"v":100,"s":"2"}]},"mark":{"type":"text","font":"Liberation Serif","fontWeight":"bold","fontSize":30,"align":"left","baseline":"alphabetic","dy":-3,"color":"black"},"encoding":{"x":{"datum":3.955,"type":"quantitative","axis":null},"y":{"field":"v","type":"quantitative","axis":null},"text":{"field":"s"}}}
]}]}
